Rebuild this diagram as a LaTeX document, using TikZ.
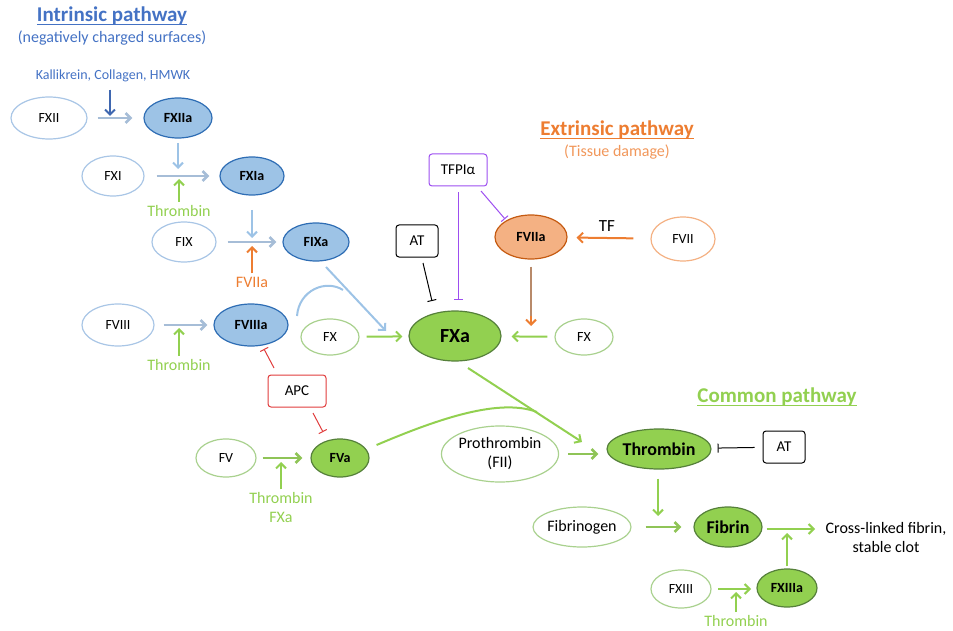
\documentclass[tikz,border=0pt]{standalone}
\usepackage{fontspec}
\setmainfont{Carlito}
\usetikzlibrary{shapes.geometric,arrows.meta}
\definecolor{tblue}{HTML}{4472C4}
\definecolor{kblue}{HTML}{3F67B0}
\definecolor{lbord}{HTML}{A9C6E6}
\definecolor{abfill}{HTML}{9DC3E6}
\definecolor{abord}{HTML}{2E6DB4}
\definecolor{barrow}{HTML}{A6BDD7}
\definecolor{lgbord}{HTML}{A9D18E}
\definecolor{gfill}{HTML}{92D050}
\definecolor{gbord}{HTML}{55803A}
\definecolor{garrow}{HTML}{92D050}
\definecolor{ttgreen}{HTML}{92D050}
\definecolor{orng}{HTML}{ED7D31}
\definecolor{lorng}{HTML}{F4B183}
\definecolor{ofill}{HTML}{F4B183}
\definecolor{obord}{HTML}{C55A11}
\definecolor{brn}{HTML}{B88A6A}
\definecolor{purp}{HTML}{9D4EF0}
\definecolor{apcred}{HTML}{E03C3C}
\begin{document}
\begin{tikzpicture}[x=1pt,y=-1pt,
  every node/.style={font=\fontsize{14}{16}\selectfont},
  base/.style={ellipse, inner sep=0pt, line width=1.2pt},
  inb/.style={base, draw=lbord, fill=white},
  acb/.style={base, draw=abord, fill=abfill, font=\fontsize{14}{16}\selectfont\bfseries},
  ing/.style={base, draw=lgbord, fill=white},
  acg/.style={base, draw=gbord, fill=gfill, font=\fontsize{14}{16}\selectfont\bfseries},
  wh/.style 2 args={minimum width=#1, minimum height=#2},
  boxed/.style={rectangle, rounded corners=3pt, line width=1pt, minimum height=32, inner sep=2pt, font=\fontsize{15}{17}\selectfont},
  ar/.style={-{Straight Barb[length=5pt,width=10pt]}},
  inh/.style={-{Bar[width=9pt]}},
  blar/.style={ar, draw=barrow, line width=2.6pt},
  blv/.style={ar, draw=abfill, line width=2pt},
  gar/.style={ar, draw=garrow, line width=2pt},
  ghz/.style={ar, draw=garrow!85!gray, line width=2.6pt},
  lab/.style={font=\fontsize{16}{19}\selectfont},
  ttl/.style={font=\fontsize{21}{24}\selectfont\bfseries, inner sep=0pt}
]
\useasboundingbox (0,0) rectangle (953,631);

% titles
\node[ttl, text=tblue] (t1) at (112,16) {Intrinsic pathway};
\draw[tblue, line width=1.1pt] ([yshift=-3pt]t1.base west) -- ([yshift=-3pt]t1.base east);
\node[lab, text=tblue] (t1b) at (112,38) {(negatively charged surfaces)};
\node[ttl, text=orng] (t2) at (617,130) {Extrinsic pathway};
\draw[orng, line width=1.1pt] ([yshift=-3pt]t2.base west) -- ([yshift=-3pt]t2.base east);
\node[lab, text=orng!80!white] (t2b) at (617,152) {(Tissue damage)};
\node[ttl, text=ttgreen] (t3) at (777,397) {Common pathway};
\draw[ttgreen, line width=1.1pt] ([yshift=-3pt]t3.base west) -- ([yshift=-3pt]t3.base east);

% intrinsic
\node[font=\fontsize{14}{16}\selectfont, text=tblue] (kal) at (113,76) {Kallikrein, Collagen, HMWK};
\node[inb, wh={76}{42}] (FXII) at (49,118) {FXII};
\node[acb, wh={68}{40}] (FXIIa) at (178,118) {FXIIa};
\node[inb, wh={62}{40}] (FXI) at (113,176) {FXI};
\node[acb, wh={64}{38}] (FXIa) at (252,176) {FXIa};
\node[inb, wh={64}{40}] (FIX) at (184,242) {FIX};
\node[acb, wh={66}{38}] (FIXa) at (316,242) {FIXa};
\node[inb, wh={72}{42}] (FVIII) at (118,325) {FVIII};
\node[acb, wh={74}{42}] (FVIIIa) at (251,325) {FVIIIa};
\node[lab, text=ttgreen] (th1) at (179,211) {Thrombin};
\node[lab, text=orng] (f7l) at (252,282) {FVIIa};
\node[lab, text=ttgreen] (th2) at (179,365) {Thrombin};

\coordinate (k1) at (110,116);
\coordinate (c2) at (178,169);
\coordinate (c2b) at (179,179);
\coordinate (c3) at (252,238);
\coordinate (c3b) at (252,246);
\coordinate (c4) at (179,328);

\draw[blar, shorten <=10pt, shorten >=11pt] (FXII) -- (FXIIa);
\draw[ar, draw=kblue, line width=2pt] (kal.south -| k1) ++(0,4) -- (k1);
\draw[blar, shorten <=12pt, shorten >=10pt] (FXI) -- (FXIa);
\draw[blv] (FXIIa.south |- 0,143) -- (c2);
\draw[gar] (th1.north) -- (c2b);
\draw[blar, shorten <=11pt, shorten >=6pt] (FIX) -- (FIXa);
\draw[blv] (FXIa.south |- 0,210) -- (c3);
\draw[ar, draw=orng, line width=2pt] (f7l.north) -- (c3b);
\draw[blar, shorten <=9pt, shorten >=6pt] (FVIII) -- (FVIIIa);
\draw[gar] (th2.north) -- (c4);

% FIXa -> FXa with FVIIIa hump
\coordinate (a1) at (326,267);
\coordinate (a2) at (386,331);
\coordinate (hm) at (343,290);
\draw[blv] (a1) -- (a2);
\draw[draw=abfill, line width=2pt] (297,316) .. controls (299,290) and (326,279) .. (hm);

% FX
\node[ing, wh={58}{36}] (FXl) at (330,337) {FX};
\node[acg, wh={92}{50}, font=\fontsize{20}{22}\selectfont\bfseries] (FXa) at (455,336) {FXa};
\node[ing, wh={58}{36}] (FXr) at (584,337) {FX};
\draw[gar, shorten <=7pt, shorten >=6pt] (FXl) -- (FXa);
\draw[gar, shorten <=7pt, shorten >=10pt] (FXr) -- (FXa);

% inhibitors of FXa
\node[boxed, draw=black, minimum width=42] (AT1) at (417,241) {AT};
\node[boxed, draw=purp, minimum width=58] (TFPI) at (458,170) {TFPIα};
\draw[inh, line width=1pt] (423,263) -- (432,301);
\draw[inh, draw=purp, line width=1pt] (TFPI.south) ++(0,6) -- (458,300);
\draw[inh, draw=purp, line width=1pt] (481,191) -- (505,219);

% extrinsic
\node[base, draw=obord, fill=ofill, wh={72}{44}, font=\fontsize{14}{16}\selectfont\bfseries] (FVIIa) at (531,237) {FVIIa};
\node[base, draw=lorng, fill=white, wh={64}{44}] (FVII) at (683,239) {FVII};
\node[font=\fontsize{17}{19}\selectfont] (TF) at (607,226) {TF};
\draw[ar, draw=orng, line width=2pt, shorten <=17pt, shorten >=9pt] (FVII) -- (FVIIa);
\draw[draw=brn, line width=2pt] (FVIIa.south) ++(0,7) -- (531,320);
\draw[ar, draw=orng, line width=2pt] (531,316) -- (531,326);

% APC
\node[boxed, draw=apcred, minimum width=58] (APC) at (297,391) {APC};
\draw[inh, draw=apcred, line width=1pt] (274,368) -- (264,349);
\draw[inh, draw=apcred, line width=1pt] (313,413) -- (323,432);

% FV
\node[ing, wh={60}{38}] (FV) at (226,458) {FV};
\node[acg, wh={58}{38}] (FVa) at (340,458) {FVa};
\node[lab, text=ttgreen, align=center] (th3) at (281,508) {Thrombin\\FXa};
\coordinate (c5) at (281,462);
\draw[ghz, shorten <=6pt, shorten >=8pt] (FV) -- (FVa);
\draw[gar] (th3.north) -- (c5);

% common
\node[ing, wh={114}{56}, font=\fontsize{16}{19}\selectfont, align=center] (FII) at (500,454) {Prothrombin\\(FII)};
\node[acg, wh={104}{40}, font=\fontsize{18}{20}\selectfont\bfseries] (Thr) at (659,449) {Thrombin};
\node[boxed, draw=black, minimum width=42] (AT2) at (784,447) {AT};
\coordinate (m1) at (537,412);
\draw[gar] (468,368) -- (582,442);
\draw[draw=garrow, line width=2pt] (FVa.east) ++(7,-13) .. controls (440,418) and (500,398) .. (m1);
\draw[ghz, shorten <=9pt, shorten >=8pt] (FII.east) -- (FII.east -| Thr.west);
\draw[inh, line width=1pt, shorten <=8pt, shorten >=6pt] (AT2) -- (Thr);

\node[ing, wh={96}{40}, font=\fontsize{16}{19}\selectfont] (Fbg) at (582,527) {Fibrinogen};
\node[acg, wh={68}{40}, font=\fontsize{18}{20}\selectfont\bfseries] (Fib) at (728,527) {Fibrin};
\node[font=\fontsize{16}{19}\selectfont, align=center] (clot) at (886,538) {Cross-linked fibrin,\\stable clot};
\draw[gar] (Thr.south) ++(-1,9) -- (658,516);
\draw[ghz, shorten <=14pt, shorten >=12pt] (Fbg) -- (Fib);
\coordinate (c6) at (815,529);
\draw[gar] (Fib.east |- c6) ++(4,0) -- (c6);

\node[ing, wh={60}{38}] (FXIII) at (681,589) {FXIII};
\node[acg, wh={60}{38}] (FXIIIa) at (787,588) {FXIIIa};
\node[lab, text=ttgreen, inner sep=1pt] (th4) at (736,621) {Thrombin};
\draw[gar] (FXIII) ++(37,0) -- (751,589);
\draw[gar] (FXIIIa.north) ++(0,-2) -- (787,533);
\draw[gar] (th4.north) ++(0,-2) -- (736,592);
\end{tikzpicture}
\end{document}
